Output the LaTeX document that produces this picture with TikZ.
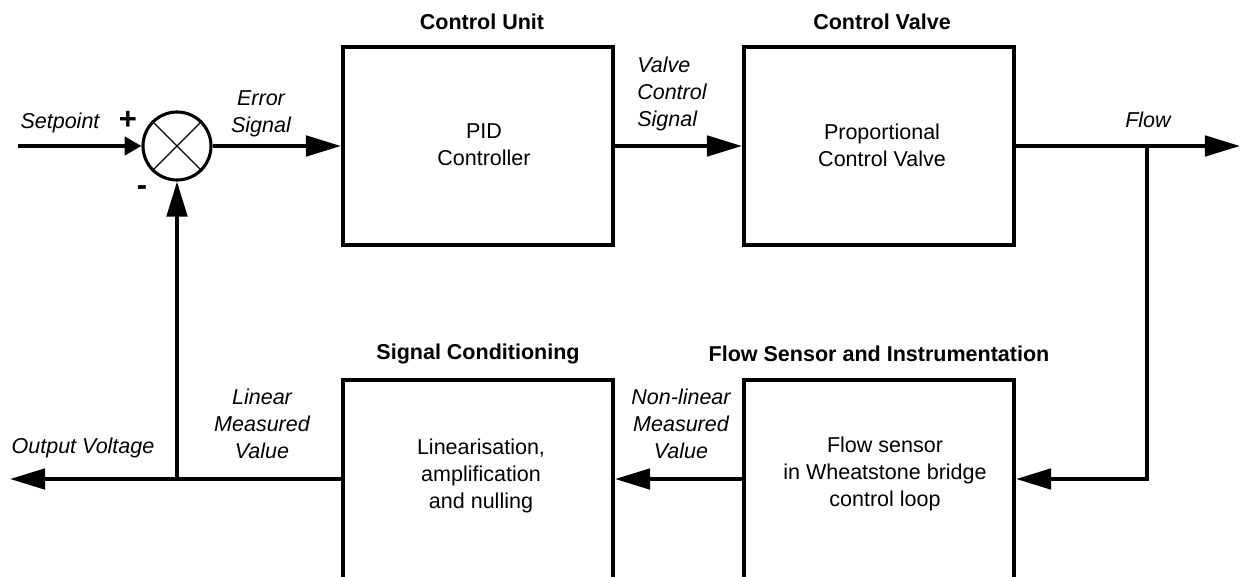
\documentclass[tikz,border=0pt]{standalone}
\usepackage{fontspec}
\setmainfont{Liberation Sans}
\usetikzlibrary{arrows.meta}
\begin{document}
\begin{tikzpicture}[x=0.025cm, y=-0.025cm,
    font=\fontsize{15.3}{19}\selectfont,
    blockStyle/.style={rectangle, draw, line width=2.8pt, minimum width=6.75cm, minimum height=4.95cm, align=center, inner sep=0pt},
    lowBlockStyle/.style={blockStyle, minimum height=5.5cm},
    sumStyle/.style={circle, draw, line width=2.2pt, minimum size=1.7cm, inner sep=0pt},
    headStyle/.style={font=\fontsize{15.3}{19}\selectfont\bfseries},
    labelStyle/.style={font=\fontsize{15.3}{19}\selectfont\itshape, align=center, inner sep=0pt},
    textStyle/.style={align=center, inner sep=0pt},
    signStyle/.style={font=\fontsize{22}{24}\selectfont\bfseries, inner sep=0pt},
    lineStyle/.style={line width=2.8pt, line join=miter},
    arrowStyle/.style={lineStyle, -{Triangle[length=25pt, width=14.5pt]}},
    smallArrowStyle/.style={lineStyle, -{Triangle[length=12pt, width=13pt]}}]
    \useasboundingbox (0,0) rectangle (1241,577);
    \clip (0,0) rectangle (1241,577);

    % forward path
    \node[sumStyle]  (sum)   at (177, 146) {};
    \node[blockStyle] (pid)   at (478, 146) {};
    \node[blockStyle] (valve) at (879, 146) {};
    \node[textStyle] (pidText)   at (484, 145) {PID\\Controller};
    \node[textStyle] (valveText) at (882, 145) {Proportional\\Control Valve};
    \node[headStyle] (pidHead)   at (482,  22) {Control Unit};
    \node[headStyle] (valveHead) at (882,  22) {Control Valve};

    % feedback path
    \node[lowBlockStyle] (scond)  at (478, 490) {};
    \node[lowBlockStyle] (sensor) at (879, 490) {};
    \node[textStyle] (scondText)  at (481, 476) {Linearisation,\\amplification\\and nulling};
    \node[textStyle] (sensorText) at (885, 474) {Flow sensor\\in Wheatstone bridge\\control loop};
    \node[headStyle] (scondHead)  at (478, 354) {Signal Conditioning};
    \node[headStyle] (sensorHead) at (879, 354) {Flow Sensor and Instrumentation};

    % cross in the summing junction
    \draw[line width=1pt] (sum.north west) -- (sum.south east);
    \draw[line width=1pt] (sum.north east) -- (sum.south west);

    % signal labels
    \node[labelStyle] (setLabel)   at (  60, 123) {Setpoint};
    \node[signStyle]  (plusSign)   at ( 128, 120) {+};
    \node[signStyle]  (minusSign)  at ( 142, 191) {-};
    \node[labelStyle] (errLabel)   at ( 261, 114) {Error\\Signal};
    \node[labelStyle, align=left, anchor=west] (vcsLabel) at (637, 94) {Valve\\Control\\Signal};
    \node[labelStyle] (flowLabel)  at (1148, 120) {Flow};
    \node[labelStyle] (nlLabel)    at ( 681, 424) {Non-linear\\Measured\\Value};
    \node[labelStyle] (linLabel)   at ( 262, 424) {Linear\\Measured\\Value};
    \node[labelStyle] (outLabel)   at (  83, 448) {Output Voltage};

    % connector end points
    \coordinate (setStart) at (  18, 146);
    \coordinate (flowEnd)  at (1240, 146);
    \coordinate (flowTap)  at (1147, 146);
    \coordinate (fbRow)    at (   0, 479);
    \coordinate (outTap)   at ( 177, 479);
    \coordinate (outEnd)   at (  10, 479);

    \draw[smallArrowStyle] (setStart) -- (sum.west);
    \draw[arrowStyle] (sum.east) -- (pid.west);
    \draw[arrowStyle] (pid.east) -- (valve.west);
    \draw[arrowStyle] (valve.east) -- (flowEnd);
    \draw[arrowStyle] (flowTap) |- (sensor.east |- fbRow);
    \draw[arrowStyle] (sensor.west |- fbRow) -- (scond.east |- fbRow);
    \draw[arrowStyle] (scond.west |- fbRow) -- (outEnd);
    \draw[arrowStyle] (outTap) -- (sum.south);
\end{tikzpicture}
\end{document}
